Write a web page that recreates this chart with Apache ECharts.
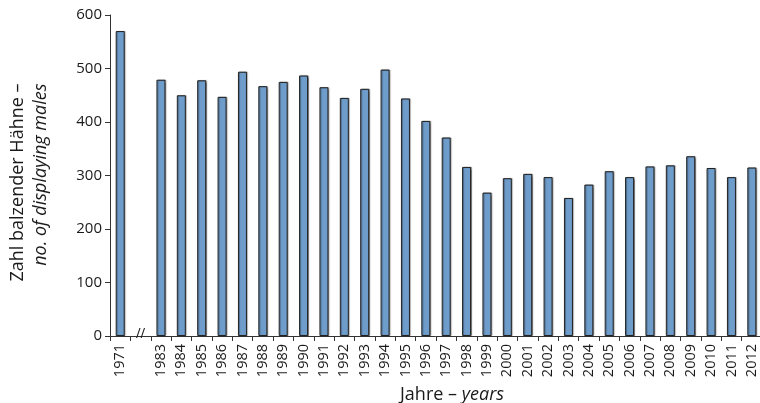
<!DOCTYPE html>
<html><head><meta charset="utf-8">
<script src="https://cdn.jsdelivr.net/npm/echarts@6/dist/echarts.min.js"></script>
<style>html,body{margin:0;padding:0;background:#fff}#c{width:760px;height:403px}</style>
</head><body><div id="c"></div>
<script>
var years = ['1971','','1983','1984','1985','1986','1987','1988','1989','1990','1991','1992','1993','1994','1995','1996','1997','1998','1999','2000','2001','2002','2003','2004','2005','2006','2007','2008','2009','2010','2011','2012'];
var males = [570,null,479,450,478,447,494,467,475,487,465,445,462,498,444,402,371,316,268,295,303,297,258,283,308,297,317,319,336,314,297,315];
var yTicks = [0,100,200,300,400,500,600];
var breakCategory = '';

var chart = echarts.init(document.getElementById('c'));
chart.setOption({
  animation:false,
  grid:{left:110,top:15,width:652,height:321,containLabel:false,outerBoundsMode:'none'},
  xAxis:{
    type:'category', data:years,
    name:'{a|Jahre – }{b|years}', nameLocation:'middle', nameGap:50,
    nameTextStyle:{padding:[0,0,0,32],rich:{a:{fontFamily:'Open Sans',fontSize:18,color:'#1a1a1a'},b:{fontFamily:'Open Sans',fontSize:18,fontStyle:'italic',color:'#1a1a1a'}}},
    axisLine:{lineStyle:{color:'#333',width:1}},
    axisTick:{show:true,length:5,lineStyle:{color:'#333'}},
    axisLabel:{rotate:90,interval:0,fontFamily:'Open Sans',fontSize:14.5,color:'#1a1a1a',margin:8}
  },
  yAxis:{
    type:'value', min:yTicks[0], max:yTicks[yTicks.length-1], interval:100,
    name:'{a|Zahl balzender Hähne –}\n{b|no. of displaying males}', nameLocation:'middle', nameGap:58, nameRotate:90,
    nameTextStyle:{lineHeight:23,padding:[0,14,0,0],rich:{a:{fontFamily:'Open Sans',fontSize:18,color:'#1a1a1a',lineHeight:23,align:'right'},b:{fontFamily:'Open Sans',fontSize:18,fontStyle:'italic',color:'#1a1a1a',lineHeight:23,align:'right'}}},
    axisLine:{show:true,lineStyle:{color:'#333',width:1}},
    axisTick:{show:true,length:5,lineStyle:{color:'#333'}},
    splitLine:{show:false},
    axisLabel:{fontFamily:'Open Sans',fontSize:15,color:'#1a1a1a',margin:8}
  },
  series:[{
    type:'bar', data:males, barWidth:9,
    itemStyle:{color:'#6F9DCB',borderColor:'#222',borderWidth:1,shadowColor:'rgba(0,0,0,0.35)',shadowOffsetX:1,shadowOffsetY:0,shadowBlur:1},
    markPoint:{
      symbol:'path://M3,0 L4,0 L1,10 L0,10 Z M7,0 L8,0 L5,10 L4,10 Z', symbolSize:[9,10],
      itemStyle:{color:'#222'}, label:{show:false},
      data:[{coord:[breakCategory,0],symbolOffset:[0,-3]}]
    }
  }]
});
</script></body></html>
